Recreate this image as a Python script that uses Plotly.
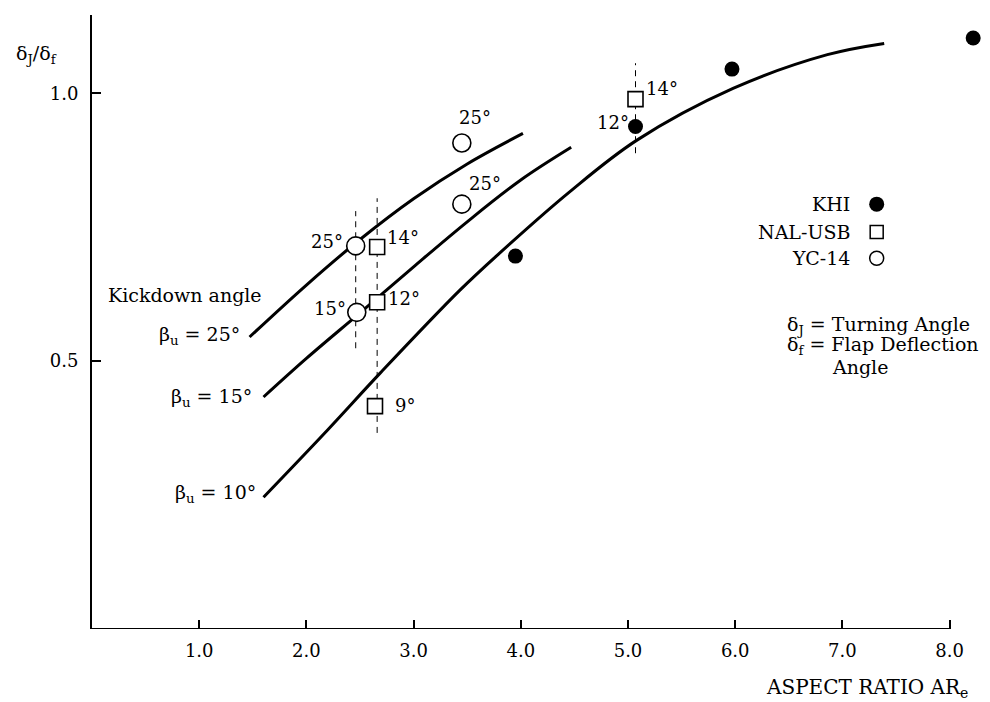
import plotly.graph_objects as go

# ---- curves of turning-angle ratio vs. effective aspect ratio, per kickdown angle ----
kd25_x = [1.47, 2.00, 2.50, 3.00, 3.50, 4.02]
kd25_y = [0.545, 0.642, 0.727, 0.803, 0.868, 0.925]

kd15_x = [1.60, 2.00, 2.50, 3.00, 3.50, 4.00, 4.47]
kd15_y = [0.433, 0.505, 0.590, 0.676, 0.760, 0.838, 0.899]

kd10_x = [1.60, 2.20, 2.69, 3.43, 3.81, 4.45, 5.08, 5.98, 6.86, 7.39]
kd10_y = [0.246, 0.372, 0.478, 0.632, 0.703, 0.815, 0.912, 1.009, 1.072, 1.093]

curve_names = ["β<sub>u</sub> = 25°", "β<sub>u</sub> = 15°", "β<sub>u</sub> = 10°"]

# ---- test data ----
khi_x = [3.95, 5.07, 5.97, 8.22]
khi_y = [0.696, 0.938, 1.045, 1.103]
khi_lbl = ["", "12°", "", ""]

nal_x = [2.66, 2.66, 2.64, 5.07]
nal_y = [0.713, 0.610, 0.416, 0.989]
nal_lbl = ["14°", "12°", "9°", "14°"]

yc_x = [2.46, 2.47, 3.45, 3.45]
yc_y = [0.715, 0.591, 0.793, 0.907]
yc_lbl = ["25°", "15°", "25°", "25°"]

# vertical dashed guides (x, y_from, y_to)
guide_x = [2.46, 2.66, 5.07]
guide_y0 = [0.524, 0.366, 0.888]
guide_y1 = [0.780, 0.804, 1.056]

x_ticks = [1, 2, 3, 4, 5, 6, 7, 8]
x_ticktext = ["1.0", "2.0", "3.0", "4.0", "5.0", "6.0", "7.0", "8.0"]
y_ticks = [0.5, 1.0]
y_ticktext = ["0.5", "1.0"]

FONT = "DejaVu Serif"
INK = "black"
X_MAX = 8.377      # right edge of the plotting area (outlying KHI point lies beyond 8.0)
X_AXIS_END = 8.0   # the drawn abscissa stops at the last tick
Y_MAX = 1.146

fig = go.Figure()

# guides drawn first so the markers sit on top
for gx, g0, g1 in zip(guide_x, guide_y0, guide_y1):
    fig.add_trace(go.Scatter(
        x=[gx, gx], y=[g0, g1], mode="lines",
        line=dict(color=INK, width=1, dash="6px,5px"),
        hoverinfo="skip", showlegend=False))

for cx, cy in [(kd25_x, kd25_y), (kd15_x, kd15_y), (kd10_x, kd10_y)]:
    fig.add_trace(go.Scatter(
        x=cx, y=cy, mode="lines",
        line=dict(color=INK, width=3, shape="spline", smoothing=1.0),
        hoverinfo="skip", showlegend=False))

fig.add_trace(go.Scatter(
    x=khi_x, y=khi_y, mode="markers", name="KHI", cliponaxis=False,
    marker=dict(symbol="circle", size=15, color=INK, line=dict(width=0)),
    showlegend=False))
fig.add_trace(go.Scatter(
    x=nal_x, y=nal_y, mode="markers", name="NAL-USB", cliponaxis=False,
    marker=dict(symbol="square", size=15, color="white", line=dict(color=INK, width=1.6)),
    showlegend=False))
fig.add_trace(go.Scatter(
    x=yc_x, y=yc_y, mode="markers", name="YC-14", cliponaxis=False,
    marker=dict(symbol="circle", size=18, color="white", line=dict(color=INK, width=1.6)),
    showlegend=False))

annotations = []

def note(x, y, text, size=18, xanchor="center", xshift=0, yshift=0, xref="x", yref="y"):
    annotations.append(dict(
        x=x, y=y, xref=xref, yref=yref, text=text, showarrow=False,
        xanchor=xanchor, yanchor="middle", xshift=xshift, yshift=yshift,
        font=dict(family=FONT, size=size, color=INK)))

# angle labels beside the markers (pixel offsets from each marker)
khi_off = [(0, 0), (-23, 4), (0, 0), (0, 0)]
nal_off = [(26, 9), (27, 4), (30, 1), (26, 11)]
yc_off = [(-29, 4), (-27, 4), (23, 21), (13, 26)]
for xs, ys, lbls, offs in [(khi_x, khi_y, khi_lbl, khi_off),
                           (nal_x, nal_y, nal_lbl, nal_off),
                           (yc_x, yc_y, yc_lbl, yc_off)]:
    for x, y, t, (dx, dy) in zip(xs, ys, lbls, offs):
        if t:
            note(x, y, t, size=18, xshift=dx, yshift=dy)

# curve labels at the start of each curve
note(kd25_x[0], kd25_y[0], curve_names[0], size=19, xanchor="right", xshift=-8, yshift=2)
note(kd15_x[0], kd15_y[0], curve_names[1], size=19, xanchor="right", xshift=-10, yshift=0)
note(kd10_x[0], kd10_y[0], curve_names[2], size=19, xanchor="right", xshift=-6, yshift=4)
note(0.87, 0.623, "Kickdown angle", size=19)

# key for the three data sources: name on the left, symbol on the right
key_text_x, key_sym_x = 7.09, 7.32
key_names = ["KHI", "NAL-USB", "YC-14"]
key_rows_y = [0.793, 0.741, 0.692]
key_markers = [
    dict(symbol="circle", size=15, color=INK, line=dict(width=0)),
    dict(symbol="square", size=13, color="white", line=dict(color=INK, width=1.5)),
    dict(symbol="circle", size=14, color="white", line=dict(color=INK, width=1.5)),
]
for t, ky, mk in zip(key_names, key_rows_y, key_markers):
    note(key_text_x, ky, t, size=19, xanchor="right")
    fig.add_trace(go.Scatter(x=[key_sym_x], y=[ky], mode="markers", marker=mk,
                             hoverinfo="skip", showlegend=False))

note(6.46, 0.567, "δ<sub>J</sub> = Turning Angle", size=19, xanchor="left")
note(6.46, 0.530, "δ<sub>f</sub> = Flap Deflection", size=19, xanchor="left")
note(6.88, 0.489, "Angle", size=19, xanchor="left")

# axis titles, placed on the paper so they can sit outside the plotting area
note(-0.062, 0.935, "δ<sub>J</sub>/δ<sub>f</sub>", size=19, xref="paper", yref="paper")
note(0.978, -0.096, "ASPECT RATIO AR<sub>e</sub>", size=20, xanchor="right",
     xref="paper", yref="paper")

fig.update_layout(
    width=990, height=702,
    margin=dict(l=92, r=0, t=15, b=73),
    paper_bgcolor="white", plot_bgcolor="white",
    annotations=annotations,
    shapes=[dict(type="line", xref="x", yref="y", x0=0, x1=X_AXIS_END, y0=0, y1=0,
                 line=dict(color=INK, width=2), layer="above")],
    xaxis=dict(range=[0, X_MAX], showline=False,
               ticks="inside", ticklen=9, tickwidth=1.5, tickcolor=INK,
               tickvals=x_ticks, ticktext=x_ticktext, ticklabelstandoff=9,
               tickfont=dict(family=FONT, size=18, color=INK),
               showgrid=False, zeroline=False),
    yaxis=dict(range=[0, Y_MAX], showline=True, linecolor=INK, linewidth=2,
               ticks="inside", ticklen=9, tickwidth=1.5, tickcolor=INK,
               tickvals=y_ticks, ticktext=y_ticktext, ticklabelstandoff=8,
               tickfont=dict(family=FONT, size=18, color=INK),
               showgrid=False, zeroline=False),
)

fig.write_html("out.html")
